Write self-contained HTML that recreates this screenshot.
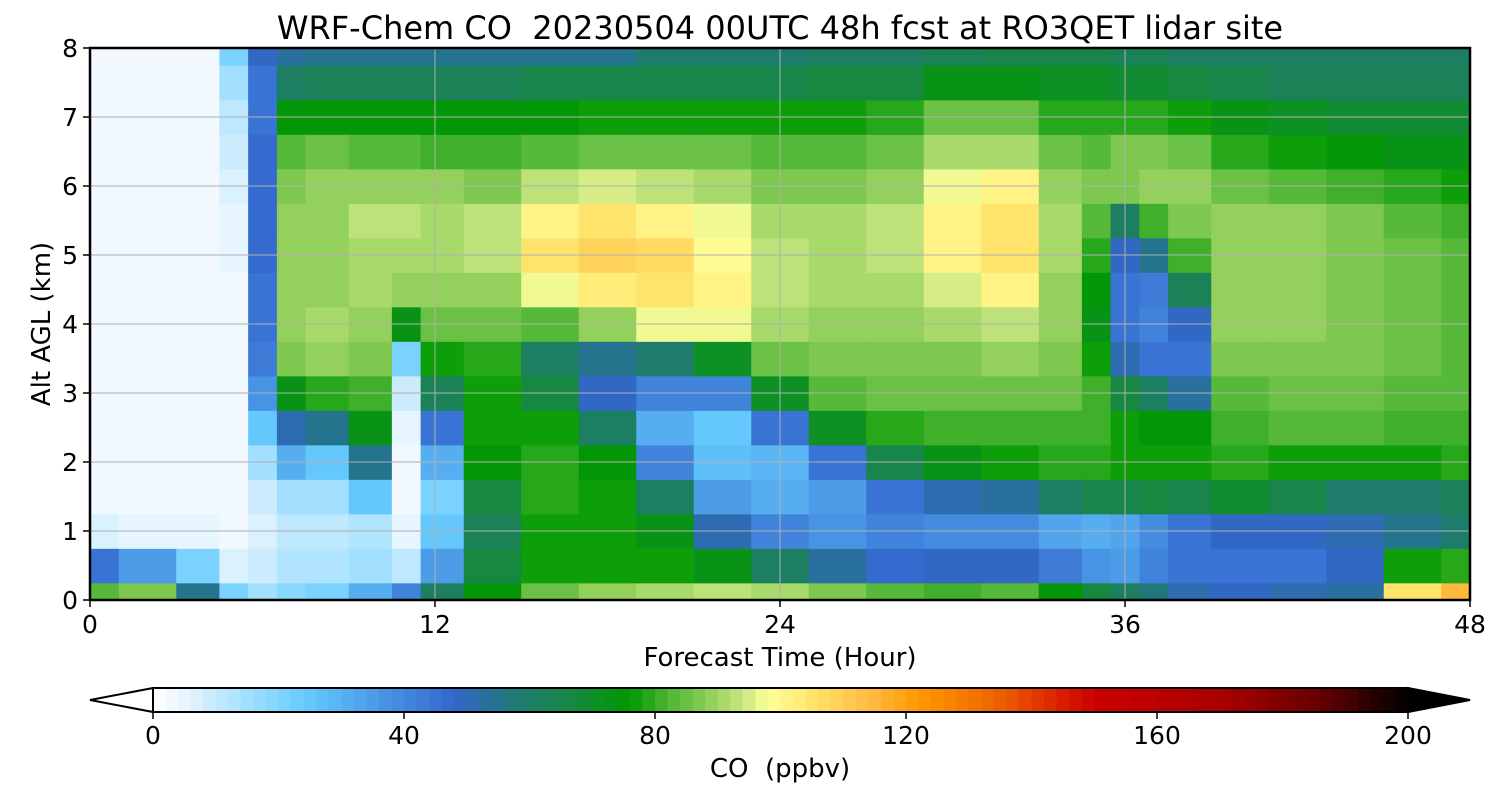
<!DOCTYPE html>
<html><head><meta charset="utf-8">
<style>
body{margin:0;background:#fff;}
svg{display:block;font-family:"DejaVu Sans","Liberation Sans",sans-serif;}
text{white-space:pre;}
</style></head>
<body>
<svg id="chart" width="1500" height="800" viewBox="0 0 1500 800">
<text x="780" y="39" font-size="32" text-anchor="middle">WRF-Chem CO  20230504 00UTC 48h fcst at RO3QET lidar site</text>
<g id="cells"></g>
<g id="grid"></g>
<rect x="90" y="48" width="1380" height="552" fill="none" stroke="#000" stroke-width="2.5"/>
<g id="axes" font-size="25"></g>
<text x="780" y="666" font-size="26" text-anchor="middle">Forecast Time (Hour)</text>
<text transform="translate(50,324) rotate(-90)" font-size="26" text-anchor="middle">Alt AGL (km)</text>
<g id="cbar"></g>
<text x="780" y="777" font-size="26" text-anchor="middle">CO  (ppbv)</text>
</svg>
<script>
const times=[0,2,4,5,6,7,8,10,11,12,14,16,18,20,22,24,26,28,30,32,34,35,36,37,38,40,42,44,46,48];
const alts=[0,0.5,1,1.5,2,2.5,3,3.5,4,4.5,5,5.5,6,6.5,7,7.5,8];
const co=[
[82,45,6,3,2,2,2,2,2,2,2,2,2,2,2,2,2],
[86,35,5,3,2,2,2,2,2,2,2,2,2,2,2,2,2],
[55,20,4,3,2,2,2,2,2,2,2,2,2,2,2,2,2],
[20,6,3,2,2,2,2,2,2,3,4,5,6,8,10,14,20],
[15,8,6,8,14,24,36,42,44,45,46,46,46,46,45,45,48],
[18,12,10,15,30,50,72,86,88,88,88,88,86,82,74,60,52],
[20,12,10,14,25,55,78,88,90,88,88,88,88,84,75,62,55],
[30,15,12,25,55,72,80,86,88,90,90,92,88,82,75,62,55],
[40,10,4,3,3,4,8,20,72,88,90,92,88,82,75,62,55],
[60,35,25,20,30,45,62,76,84,88,90,90,88,80,75,62,55],
[74,66,62,66,74,76,76,78,84,88,92,92,86,80,74,62,55],
[84,76,76,78,78,76,66,60,82,96,104,100,92,82,75,64,55],
[88,76,76,76,74,60,48,55,88,102,108,104,94,84,76,64,55],
[90,76,72,60,40,30,40,58,96,104,106,100,92,84,76,64,58],
[92,72,50,35,26,24,40,70,96,100,98,96,90,84,76,64,58],
[90,60,40,30,28,45,70,84,90,92,92,90,86,82,76,64,58],
[86,52,36,34,45,70,82,86,88,90,90,90,86,82,76,66,60],
[82,46,40,45,65,78,84,86,88,90,92,92,88,84,78,66,60],
[80,48,38,50,72,80,84,86,90,94,100,100,96,90,84,72,62],
[82,48,38,52,76,80,84,88,92,100,104,104,100,90,84,72,64],
[74,42,32,60,78,80,84,86,88,88,90,90,88,84,78,70,64],
[66,36,30,64,78,80,80,76,72,74,78,82,86,82,78,70,64],
[60,35,32,64,76,76,66,50,45,45,48,60,86,86,78,68,62],
[56,40,38,66,76,74,60,45,40,42,55,80,88,86,78,68,62],
[50,45,45,64,76,74,52,45,48,62,80,86,88,84,76,66,60],
[48,45,48,68,78,80,82,86,88,88,88,88,84,78,72,64,60],
[50,45,48,64,76,82,84,86,88,88,88,88,82,76,70,62,60],
[52,48,50,58,76,82,84,86,86,86,86,86,80,74,68,62,60],
[105,76,54,58,76,80,82,84,84,84,84,82,78,72,68,62,60],
[115,78,58,62,78,80,82,82,82,82,82,80,76,72,68,62,60]];
const xTicks=[0,12,24,36,48];
const yTicks=[0,1,2,3,4,5,6,7,8];
const cbTicks=[0,40,80,120,160,200];

const NS="http://www.w3.org/2000/svg";
const X=t=>90+t/48*1380, Y=a=>600-a/8*552;
const stops=[[0,"#ffffff"],[4,"#eef7fe"],[24,"#66ccff"],[36,"#4a98e6"],[48,"#3366cc"],[58,"#1f7a72"],[68,"#158a3a"],[76,"#009900"],[82,"#4db534"],[88,"#88cc55"],[94,"#c8e680"],[98,"#ffff99"],[106,"#ffe066"],[114,"#ffbb44"],[122,"#ff9900"],[134,"#ee6600"],[144,"#dd2200"],[150,"#cc0000"],[170,"#aa0000"],[186,"#660000"],[200,"#000000"]];
function hx(c){return [1,3,5].map(i=>parseInt(c.substr(i,2),16));}
function cmap(v){v=Math.max(0,Math.min(200,Math.floor(v/2)*2+1));
 for(let i=1;i<stops.length;i++){if(v<=stops[i][0]){const [a,ca]=stops[i-1],[b,cb]=stops[i];const f=(v-a)/(b-a);const A=hx(ca),B=hx(cb);return "rgb("+A.map((x,k)=>Math.round(x+(B[k]-x)*f)).join(",")+")";}}return "#000";}
function mk(tag,at,parent){const e=document.createElementNS(NS,tag);for(const k in at)e.setAttribute(k,at[k]);parent.appendChild(e);return e;}
const cells=document.getElementById("cells");
times.forEach((t,i)=>{
 const t0=i?(times[i-1]+t)/2:0, t1=i<times.length-1?(t+times[i+1])/2:48;
 alts.forEach((a,j)=>{
  const a0=j?(alts[j-1]+a)/2:0, a1=j<alts.length-1?(a+alts[j+1])/2:8;
  const r=mk("rect",{x:X(t0),y:Y(a1),width:X(t1)-X(t0)+0.6,height:Y(a0)-Y(a1)+0.6,fill:cmap(co[i][j])},cells);
  
  
 });
});
const grid=document.getElementById("grid"),axes=document.getElementById("axes");
xTicks.forEach(t=>{
 const g=mk("line",{x1:X(t),x2:X(t),y1:48,y2:600,stroke:"#b0b0b0","stroke-width":1},grid);
 
 mk("line",{x1:X(t),x2:X(t),y1:600,y2:607,stroke:"#000","stroke-width":1.5},axes);
 const tx=mk("text",{x:X(t),y:633,"text-anchor":"middle"},axes);tx.textContent=t;
 
});
yTicks.forEach(a=>{
 const g=mk("line",{x1:90,x2:1470,y1:Y(a),y2:Y(a),stroke:"#b0b0b0","stroke-width":1},grid);
 
 mk("line",{x1:83,x2:90,y1:Y(a),y2:Y(a),stroke:"#000","stroke-width":1.5},axes);
 const tx=mk("text",{x:78,y:Y(a)+9,"text-anchor":"end"},axes);tx.textContent=a;
 
});
const cb=document.getElementById("cbar");
const C=v=>153+v/200*1255;
for(let v=0;v<200;v+=2){const r=mk("rect",{x:C(v),y:688,width:C(2)-C(0)+0.5,height:24,fill:cmap(v)},cb);
 }
mk("polygon",{points:"153,688 90,700 153,712",fill:"#fff",stroke:"#000","stroke-width":2},cb);
mk("polygon",{points:"1408,688 1470,700 1408,712",fill:"#000",stroke:"#000","stroke-width":2},cb);
mk("rect",{x:153,y:688,width:1255,height:24,fill:"none",stroke:"#000","stroke-width":2},cb);
cbTicks.forEach(v=>{mk("line",{x1:C(v),x2:C(v),y1:712,y2:719,stroke:"#000","stroke-width":1.5},cb);
 const tx=mk("text",{x:C(v),y:744,"text-anchor":"middle","font-size":25},cb);tx.textContent=v;
 });
</script>
</body></html>
